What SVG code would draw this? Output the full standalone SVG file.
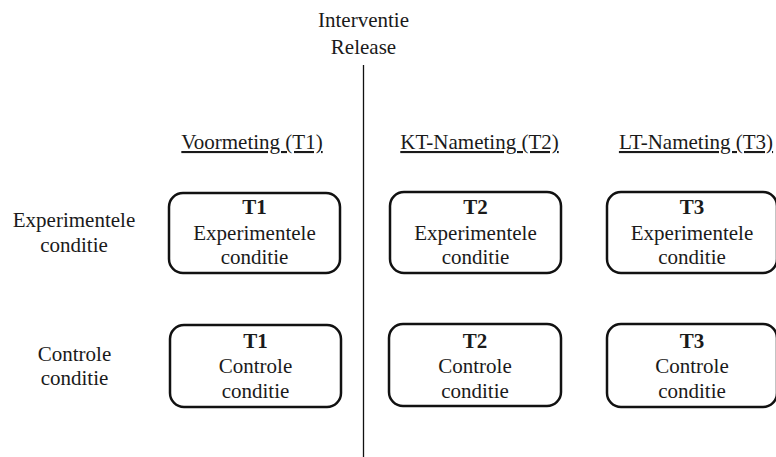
<svg xmlns="http://www.w3.org/2000/svg" width="776" height="457" viewBox="0 0 776 457">
<style>
text{font-family:'Liberation Serif','Times New Roman',serif;font-size:21px;fill:#1a1a1a;text-anchor:middle}
.b{font-weight:bold}
.h{text-decoration:underline}
.box{fill:#fff;stroke:#111;stroke-width:2.5}
.ln{stroke:#111;stroke-width:1.3;fill:none}
</style>
<rect width="776" height="457" fill="#fff"/>
<g id="connectors">
<line class="ln" x1="363.5" y1="65" x2="363.5" y2="457"/>
</g>
<g id="intervention">
<text x="363.5" y="27">Interventie</text>
<text x="363.5" y="54">Release</text>
</g>
<g id="headers">
<text class="h" x="252" y="149">Voormeting (T1)</text>
<text class="h" x="479.5" y="149">KT-Nameting (T2)</text>
<text class="h" x="696" y="149">LT-Nameting (T3)</text>
</g>
<g id="row-labels">
<text x="74" y="227">Experimentele</text>
<text x="74" y="252">conditie</text>
<text x="74.5" y="361">Controle</text>
<text x="74.5" y="385">conditie</text>
</g>
<g id="t1-exp">
<rect class="box" x="169" y="193" width="171" height="80" rx="14"/>
<text class="b" x="254.5" y="214">T1</text>
<text x="254.5" y="240">Experimentele</text>
<text x="254.5" y="264">conditie</text>
</g>
<g id="t2-exp">
<rect class="box" x="390" y="192" width="171" height="81" rx="14"/>
<text class="b" x="475.5" y="214">T2</text>
<text x="475.5" y="240">Experimentele</text>
<text x="475.5" y="264">conditie</text>
</g>
<g id="t3-exp">
<rect class="box" x="607" y="192" width="170" height="81" rx="14"/>
<text class="b" x="692" y="214">T3</text>
<text x="692" y="240">Experimentele</text>
<text x="692" y="264">conditie</text>
</g>
<g id="t1-ctrl">
<rect class="box" x="170" y="325" width="171" height="82" rx="14"/>
<text class="b" x="255.5" y="348">T1</text>
<text x="255.5" y="373">Controle</text>
<text x="255.5" y="398">conditie</text>
</g>
<g id="t2-ctrl">
<rect class="box" x="389" y="324" width="172" height="82" rx="14"/>
<text class="b" x="475" y="348">T2</text>
<text x="475" y="373">Controle</text>
<text x="475" y="398">conditie</text>
</g>
<g id="t3-ctrl">
<rect class="box" x="607" y="324" width="170" height="83" rx="14"/>
<text class="b" x="692" y="348">T3</text>
<text x="692" y="373">Controle</text>
<text x="692" y="398">conditie</text>
</g>
</svg>
